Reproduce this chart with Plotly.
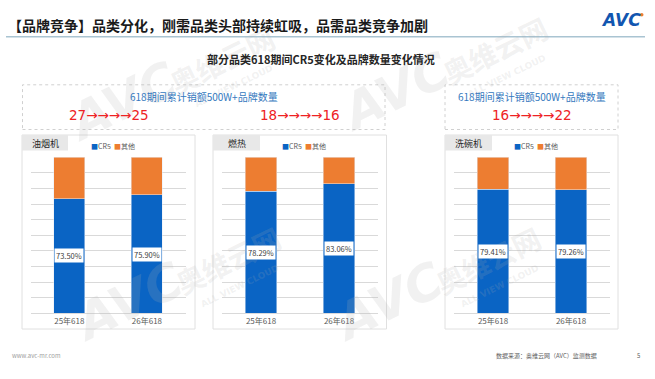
import plotly.graph_objects as go

W, H = 655, 379

categories = ["25年618", "26年618"]
panel_names = ["油烟机", "燃热", "洗碗机"]
cr5_values = [[73.50, 75.90], [78.29, 83.06], [79.41, 79.26]]
other_values = [[26.50, 24.10], [21.71, 16.94], [20.59, 20.74]]
cr5_labels = [["73.50%", "75.90%"], ["78.29%", "83.06%"], ["79.41%", "79.26%"]]
brand_counts = ["27→→→→25", "18→→→→16", "16→→→→22"]
box_caption = "618期间累计销额500W+品牌数量"

BLUE = "#0A64C4"
ORANGE = "#ED7D31"
FONT = "Noto Sans CJK SC"


def px(x):
    return x / W


def py(y):
    return 1 - y / H


def note(x, y, text, size, color, family=FONT, xanchor="center", **kw):
    d = dict(xref="paper", yref="paper", x=px(x), y=py(y), text=text, showarrow=False,
             xanchor=xanchor, yanchor="middle",
             font=dict(size=size, color=color, family=family))
    d.update(kw)
    return d


# plot-area pixel extents per panel
plot_x = [(30.5, 185.7), (222, 378), (454, 610)]
plot_y = (157.3, 313.3)
panel_box = [(22, 195), (213, 386.5), (445, 618)]
label_box_w = [46, 47, 47]

fig = go.Figure()
for i in range(3):
    xa = "x" if i == 0 else f"x{i+1}"
    ya = "y" if i == 0 else f"y{i+1}"
    fig.add_trace(go.Bar(x=categories, y=cr5_values[i], name="CR5", marker_color=BLUE,
                         xaxis=xa, yaxis=ya, showlegend=False, hoverinfo="skip"))
    fig.add_trace(go.Bar(x=categories, y=other_values[i], name="其他", marker_color=ORANGE,
                         xaxis=xa, yaxis=ya, showlegend=False, hoverinfo="skip"))

layout = dict(
    width=W, height=H, margin=dict(l=0, r=0, t=0, b=0),
    paper_bgcolor="white", plot_bgcolor="rgba(0,0,0,0)",
    barmode="stack", bargap=0.6,
    font=dict(family=FONT, color="#404040"),
)
for i in range(3):
    suf = "" if i == 0 else str(i + 1)
    x0, x1 = plot_x[i]
    layout["xaxis" + suf] = dict(
        domain=[px(x0), px(x1)], anchor="y" + suf, type="category",
        showgrid=False, showline=False, ticks="", zeroline=False,
        tickfont=dict(size=8, color="#595959", family=FONT), ticklabelstandoff=2,
    )
    layout["yaxis" + suf] = dict(
        domain=[py(plot_y[1]), py(plot_y[0])], anchor="x" + suf,
        range=[0, 100], dtick=10, showgrid=True, gridcolor="#D9D9D9", gridwidth=1,
        zeroline=True, zerolinecolor="#D9D9D9", zerolinewidth=1,
        showticklabels=False, ticks="", showline=False,
    )
fig.update_layout(**layout)

shapes = []
annotations = []

# watermarks (drawn first so other texts sit on top)
WM = "rgba(175,175,175,0.18)"
for (ax, ay) in [(122, 102), (395, 92), (128, 302), (388, 302)]:
    annotations.append(note(ax, ay, "<b><i>AVC</i></b>", 50, WM, family="DejaVu Sans", textangle=-26))
    annotations.append(note(ax + 100, ay - 42, "<b>奥维云网</b>", 28, WM, textangle=-26))
    annotations.append(note(ax + 112, ay - 16, "<b>ALL VIEW CLOUD</b>", 9, WM, family="DejaVu Sans",
                            textangle=-26))

# header line
shapes.append(dict(type="line", xref="paper", yref="paper", x0=px(6), x1=px(645),
                   y0=py(36.8), y1=py(36.8), line=dict(color="#A9C4D2", width=1.5)))

# dashed caption boxes
for (bx0, bx1) in [(22.5, 385), (445, 618)]:
    shapes.append(dict(type="rect", xref="paper", yref="paper", x0=px(bx0), x1=px(bx1),
                       y0=py(129.5), y1=py(84.8), line=dict(color="#D0D0D0", width=1, dash="dot"),
                       layer="below"))
annotations.append(note(204, 96, box_caption, 10, "#3579BE"))
annotations.append(note(531.5, 96, box_caption, 10, "#3579BE"))

for i in range(3):
    bx0, bx1 = panel_box[i]
    cx = (bx0 + bx1) / 2
    # red brand count
    annotations.append(note(cx, 115, brand_counts[i], 13.5, "#EE2224", family="DejaVu Sans"))
    # panel border
    shapes.append(dict(type="rect", xref="paper", yref="paper", x0=px(bx0), x1=px(bx1),
                       y0=py(329), y1=py(135), line=dict(color="#E0E0E0", width=1), layer="below"))
    # gray name tab
    shapes.append(dict(type="rect", xref="paper", yref="paper", x0=px(bx0), x1=px(bx0 + label_box_w[i]),
                       y0=py(150.5), y1=py(135), line=dict(width=0), fillcolor="#E8E8E8", layer="below"))
    annotations.append(note(bx0 + label_box_w[i] / 2, 143, panel_names[i], 9, "#262626"))
    # legend
    annotations.append(note(bx0 + 67, 146,
                            f'<span style="color:{BLUE}">■</span>CR5  <span style="color:{ORANGE}">■</span>其他',
                            7, "#595959", xanchor="left"))
    # data labels
    xr = "x" if i == 0 else f"x{i+1}"
    yr = "y" if i == 0 else f"y{i+1}"
    for j, c in enumerate(categories):
        annotations.append(dict(xref=xr, yref=yr, x=c, y=cr5_values[i][j] / 2,
                                xanchor="center", yanchor="middle",
                                text=cr5_labels[i][j], showarrow=False, bgcolor="white",
                                borderpad=1, font=dict(size=7.5, color="#404040", family=FONT)))

# title texts
annotations.append(note(6, 25, "<b>【品牌竞争】品类分化，刚需品类头部持续虹吸，品需品类竞争加剧</b>",
                        14, "#1A1A1A", xanchor="left"))
annotations.append(note(321, 59, "<b>部分品类618期间CR5变化及品牌数量变化情况</b>", 11, "#262626"))
# logo text
annotations.append(note(621, 20, "<b><i>AVC</i></b>", 17, "#1256B0", family="DejaVu Sans"))
shapes.append(dict(type="circle", xref="paper", yref="paper", x0=px(640), x1=px(643.5),
                   y0=py(16.5), y1=py(13), line=dict(width=0), fillcolor=ORANGE))
# footer
annotations.append(note(10, 355, "www.avc-mr.com", 6, "#A0A0A0", xanchor="left"))
annotations.append(note(494, 355, "数据来源：奥维云网（AVC）监测数据", 6, "#606060", xanchor="left"))
annotations.append(note(638, 355, "5", 6, "#606060"))

fig.update_layout(shapes=shapes, annotations=annotations)
fig.write_html("out.html")
